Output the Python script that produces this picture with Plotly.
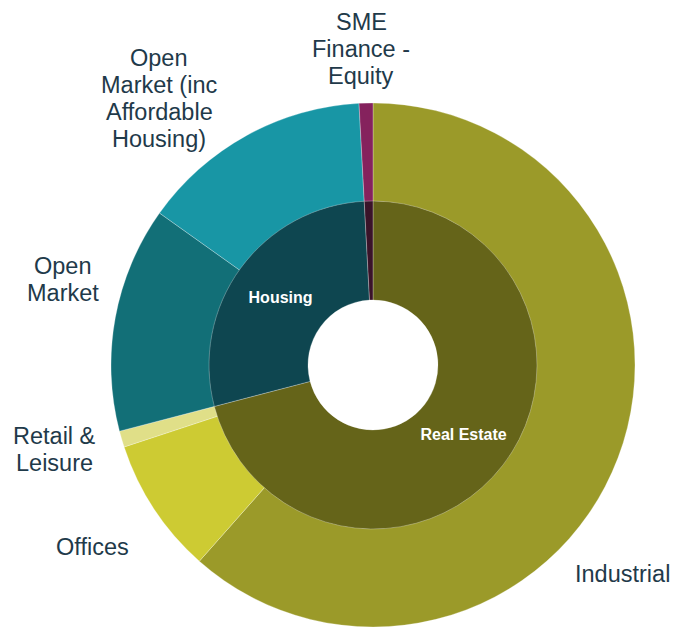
import plotly.graph_objects as go

# outer ring (sectors), clockwise from 12 o'clock
sector_labels = ['Industrial', 'Offices', 'Retail & Leisure', 'Open Market',
                 'Open Market (inc Affordable Housing)', 'SME Finance - Equity']
sector_values = [61.5, 8.4, 1.0, 13.9, 14.3, 0.85]
sector_colors = ['#9b9a29', '#cdcb33', '#e0df88', '#126f77', '#1896a5', '#85225d']
sector_lines = [['Industrial'], ['Offices'], ['Retail &', 'Leisure'], ['Open', 'Market'],
                ['Open', 'Market (inc', 'Affordable', 'Housing)'], ['SME', 'Finance -', 'Equity']]

# inner ring (groups)
group_labels = ['Real Estate', 'Housing', 'SME Finance']
group_values = [70.9, 28.2, 0.85]
group_colors = ['#656419', '#0e4650', '#3a1329']
group_text = ['Real Estate', 'Housing', '']

W, H = 686, 627
top = 103
ph = H - top
cx, R, r_mid, r_hole = 373, 263, 164, 65
line_gap = 27

fig = go.Figure()

fig.add_trace(go.Pie(
    labels=sector_labels, values=sector_values, sort=False,
    direction='clockwise', rotation=0, hole=r_mid / R,
    marker=dict(colors=sector_colors, line=dict(color='rgba(255,255,255,0.45)', width=0.6)),
    textinfo='none', hoverinfo='label+value',
    domain=dict(x=[(cx - R) / W, (cx + R) / W], y=[0, 1]),
))

fig.add_trace(go.Pie(
    labels=group_labels, values=group_values, sort=False,
    direction='clockwise', rotation=0, hole=r_hole / r_mid,
    marker=dict(colors=group_colors, line=dict(color='rgba(255,255,255,0.45)', width=0.6)),
    text=group_text, textinfo='text', textposition='inside',
    insidetextorientation='horizontal',
    insidetextfont=dict(family='Liberation Sans, Arial', size=16, color='white'),
    texttemplate='<b>%{text}</b>',
    hoverinfo='label+value',
    domain=dict(x=[(cx - r_mid) / W, (cx + r_mid) / W],
                y=[0.5 - r_mid / ph, 0.5 + r_mid / ph]),
))

# label positions (pixel centres of each text block)
label_pos = [(622, 574), (92, 547), (54, 449.5), (63, 279), (159, 98.5), (361, 49)]
for lines, (px, py) in zip(sector_lines, label_pos):
    n = len(lines)
    for i, ln in enumerate(lines):
        ly = py + (i - (n - 1) / 2) * line_gap
        fig.add_annotation(
            x=px / W, y=(H - ly) / ph, xref='paper', yref='paper',
            text=ln, showarrow=False, align='center',
            xanchor='center', yanchor='middle',
            font=dict(family='Liberation Sans, Arial', size=23.5, color='#1f3a4a'),
        )

fig.update_layout(
    width=W, height=H, showlegend=False,
    margin=dict(l=0, r=0, t=top, b=0),
    paper_bgcolor='white', plot_bgcolor='white',
)

fig.write_html('out.html', config={'displayModeBar': False},
               post_script="document.body.style.margin='0px';")
